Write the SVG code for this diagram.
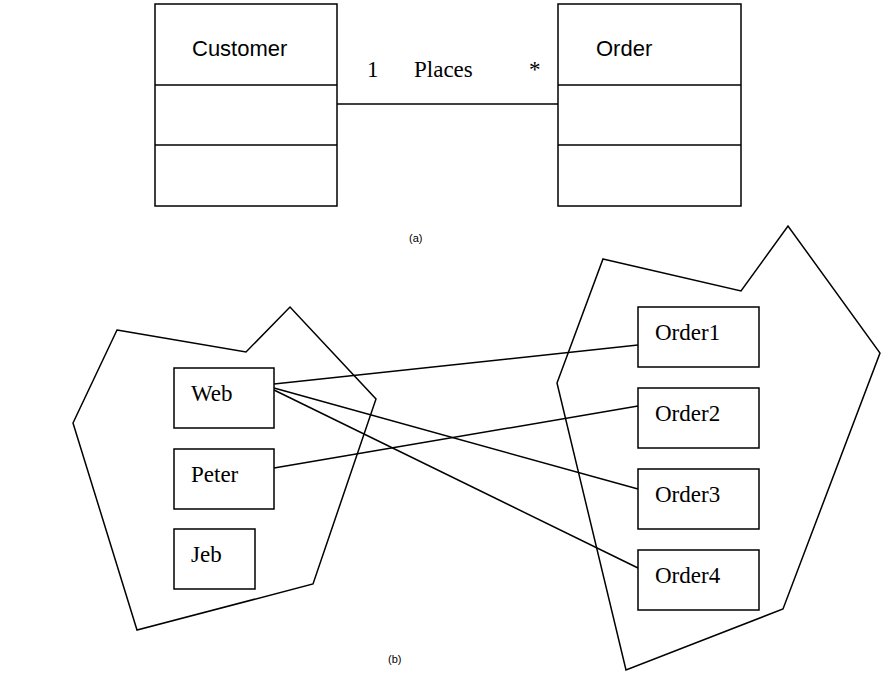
<svg xmlns="http://www.w3.org/2000/svg" width="890" height="676" viewBox="0 0 890 676">
<style>
.b{fill:#fff;stroke:#000;stroke-width:1.5}
.p{fill:none;stroke:#000;stroke-width:1.5}
.s{font-family:"Liberation Sans",Arial,sans-serif;font-size:22px}
.t{font-family:"Liberation Serif","Times New Roman",serif;font-size:23px}
.c{font-family:"Liberation Sans",Arial,sans-serif;font-size:11px}
</style>
<rect width="890" height="676" fill="#fff"/>
<g id="connectors" class="p">
<line x1="337" y1="104" x2="558" y2="104"/>
<line x1="274" y1="384" x2="638" y2="345"/>
<line x1="274" y1="468" x2="638" y2="406"/>
<line x1="274" y1="388" x2="638" y2="489"/>
<line x1="274" y1="390" x2="638" y2="568"/>
</g>
<g id="Customer"><rect class="b" x="155" y="4" width="182" height="202"/><line class="p" x1="155" y1="85" x2="337" y2="85"/><line class="p" x1="155" y1="145" x2="337" y2="145"/><text class="s" x="192" y="56">Customer</text></g>
<g id="Order"><rect class="b" x="558" y="4" width="183" height="202"/><line class="p" x1="558" y1="85" x2="741" y2="85"/><line class="p" x1="558" y1="145" x2="741" y2="145"/><text class="s" x="596" y="56">Order</text></g>
<g id="assoc-labels"><text class="t" x="367" y="77">1</text><text class="t" x="414" y="77">Places</text><text class="t" x="529" y="77">*</text></g>
<text class="c" x="409" y="242">(a)</text>
<text class="c" x="388" y="663">(b)</text>
<polygon id="customers-set" class="p" points="117,330 246,352 290,307 376,399 313,584 137,630 73,423"/>
<polygon id="orders-set" class="p" points="603,259 741,291 788,226 880,353 783,609 626,670 557,383"/>
<g id="Web"><rect class="b" x="174" y="368" width="100" height="60"/><text class="t" x="191" y="401">Web</text></g>
<g id="Peter"><rect class="b" x="174" y="449" width="100" height="60"/><text class="t" x="191" y="482">Peter</text></g>
<g id="Jeb"><rect class="b" x="174" y="529" width="81" height="60"/><text class="t" x="191" y="562">Jeb</text></g>
<g id="Order1"><rect class="b" x="638" y="307" width="121" height="60"/><text class="t" x="655" y="340">Order1</text></g>
<g id="Order2"><rect class="b" x="638" y="388" width="121" height="60"/><text class="t" x="655" y="421">Order2</text></g>
<g id="Order3"><rect class="b" x="638" y="469" width="121" height="60"/><text class="t" x="655" y="502">Order3</text></g>
<g id="Order4"><rect class="b" x="638" y="550" width="121" height="60"/><text class="t" x="655" y="583">Order4</text></g>
</svg>
